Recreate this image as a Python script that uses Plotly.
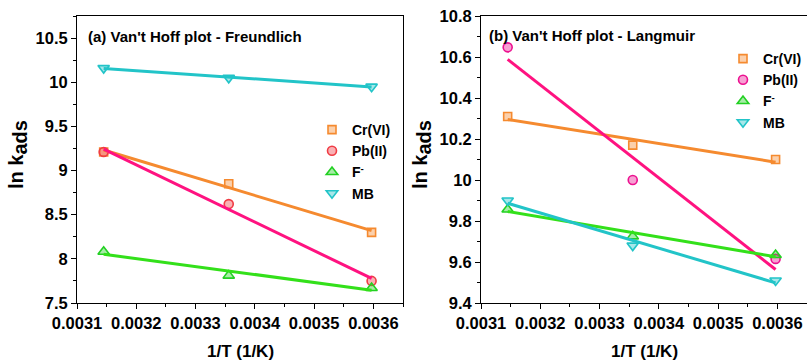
import numpy as np
import plotly.graph_objects as go

# 1/T values (1/K) for the three temperatures
inv_T = [0.003145, 0.003356, 0.003597]

# ln k_ads, Freundlich
fr_cr = [9.21, 8.85, 8.30]
fr_pb = [9.21, 8.62, 7.75]
fr_f = [8.08, 7.81, 7.67]
fr_mb = [10.16, 10.05, 9.95]

# ln k_ads, Langmuir
la_cr = [10.31, 10.17, 10.10]
la_pb = [10.647, 10.00, 9.615]
la_f = [9.856, 9.725, 9.634]
la_mb = [9.90, 9.68, 9.51]

names = ["Cr(VI)", "Pb(II)", "F<sup>-</sup>", "MB"]
line_colors = ["#F58A2F", "#FF1280", "#33E01A", "#22C4C8"]
marker_colors_a = ["#F58A2F", "#F03C44", "#22D022", "#22C4C8"]
marker_colors_b = ["#F58A2F", "#EC1190", "#22D022", "#22C4C8"]
symbols = ["square", "circle", "triangle-up", "triangle-down"]
sizes = [8, 9, 10, 10]

FONT = "Liberation Sans, Arial, sans-serif"


def rgba(hex_color, a):
    h = hex_color.lstrip("#")
    r, g, b = int(h[0:2], 16), int(h[2:4], 16), int(h[4:6], 16)
    return f"rgba({r},{g},{b},{a})"


fig = go.Figure()


def add_panel(series, mcolors, xa, ya, legend):
    # scatter points
    for name, ys, mc, sym, sz in zip(names, series, mcolors, symbols, sizes):
        fig.add_trace(go.Scatter(
            x=inv_T, y=ys, mode="markers", name=name,
            marker=dict(symbol=sym, size=sz, color=rgba(mc, 0.4),
                        line=dict(color=mc, width=1.6)),
            xaxis=xa, yaxis=ya, legend=legend))
    # linear fits over the data span
    for ys, lc in zip(series, line_colors):
        slope, icpt = np.polyfit(inv_T, ys, 1)
        xs = [inv_T[0], inv_T[-1]]
        fig.add_trace(go.Scatter(
            x=xs, y=[slope * v + icpt for v in xs], mode="lines",
            line=dict(color=lc, width=3), showlegend=False,
            hoverinfo="skip", xaxis=xa, yaxis=ya))


add_panel([fr_cr, fr_pb, fr_f, fr_mb], marker_colors_a, "x", "y", "legend")
add_panel([la_cr, la_pb, la_f, la_mb], marker_colors_b, "x2", "y2", "legend2")

tickfont = dict(family=FONT, size=16.5, color="black", weight="bold")
common_x = dict(
    range=[0.0031 - 1e-9, 0.00365], tick0=0.0031, dtick=0.0001,
    tickformat=".4f", ticks="outside", ticklen=5, tickwidth=1,
    tickcolor="black", showline=True, linecolor="black", linewidth=1,
    showgrid=False, zeroline=False, tickfont=tickfont, automargin=False,
    minor=dict(dtick=0.00005, ticks="outside", ticklen=3,
               tickcolor="black", showgrid=False))

common_y = dict(
    ticks="outside", ticklen=5, tickcolor="black", showline=True,
    linecolor="black", linewidth=1, showgrid=False, zeroline=False,
    tickfont=tickfont, automargin=False)

fig.update_layout(
    width=807, height=360,
    margin=dict(l=0, r=0, t=16, b=57, autoexpand=False),
    paper_bgcolor="white", plot_bgcolor="white",
    font=dict(family=FONT, color="black"),
    xaxis=dict(domain=[77 / 807, 403 / 807], mirror=True, **common_x),
    xaxis2=dict(domain=[481 / 807, 1.0], mirror=True, anchor="y2", **common_x),
    yaxis=dict(range=[7.5, 10.75], dtick=0.5, tick0=7.5, mirror=True,
               minor=dict(dtick=0.25, ticks="outside", ticklen=3,
                          tickcolor="black", showgrid=False),
               **common_y),
    yaxis2=dict(range=[9.4, 10.8], dtick=0.2, tick0=9.4, mirror=False,
                anchor="x2",
                minor=dict(dtick=0.1, ticks="outside", ticklen=3,
                           tickcolor="black", showgrid=False),
                **common_y),
    legend=dict(x=312 / 807, y=(303 - 114) / 287, xanchor="left", yanchor="top",
                bgcolor="rgba(0,0,0,0)", itemwidth=30,
                font=dict(family=FONT, size=14, color="black", weight="bold")),
    legend2=dict(x=723 / 807, y=(303 - 43) / 287, xanchor="left", yanchor="top",
                 bgcolor="rgba(0,0,0,0)", itemwidth=30,
                 font=dict(family=FONT, size=14, color="black", weight="bold")),
)

ann_font = dict(family=FONT, size=15, color="black", weight="bold")
title_font = dict(family=FONT, size=17, color="black", weight="bold")
ylab = "ln k<sub><span style='font-size:20px'>ads</span></sub>"


def ypix(p):
    return (303 - p) / 287


fig.add_annotation(x=86 / 807, y=ypix(36), xref="paper", yref="paper",
                   text="(a) Van't Hoff plot - Freundlich", showarrow=False,
                   xanchor="left", yanchor="middle", font=ann_font)
fig.add_annotation(x=487 / 807, y=ypix(35), xref="paper", yref="paper",
                   text="(b) Van't Hoff plot - Langmuir", showarrow=False,
                   xanchor="left", yanchor="middle", font=ann_font)
fig.add_annotation(x=240 / 807, y=ypix(351), xref="paper", yref="paper",
                   text="1/T (1/K)", showarrow=False, xanchor="center",
                   yanchor="middle", font=title_font)
fig.add_annotation(x=644 / 807, y=ypix(351), xref="paper", yref="paper",
                   text="1/T (1/K)", showarrow=False, xanchor="center",
                   yanchor="middle", font=title_font)
for xp in (18, 422):
    fig.add_annotation(x=xp / 807, y=ypix(155), xref="paper", yref="paper",
                       text=ylab, showarrow=False, textangle=-90,
                       xanchor="center", yanchor="middle",
                       font=dict(family=FONT, size=20, color="black",
                                 weight="bold"))

fig.write_html("out.html")
